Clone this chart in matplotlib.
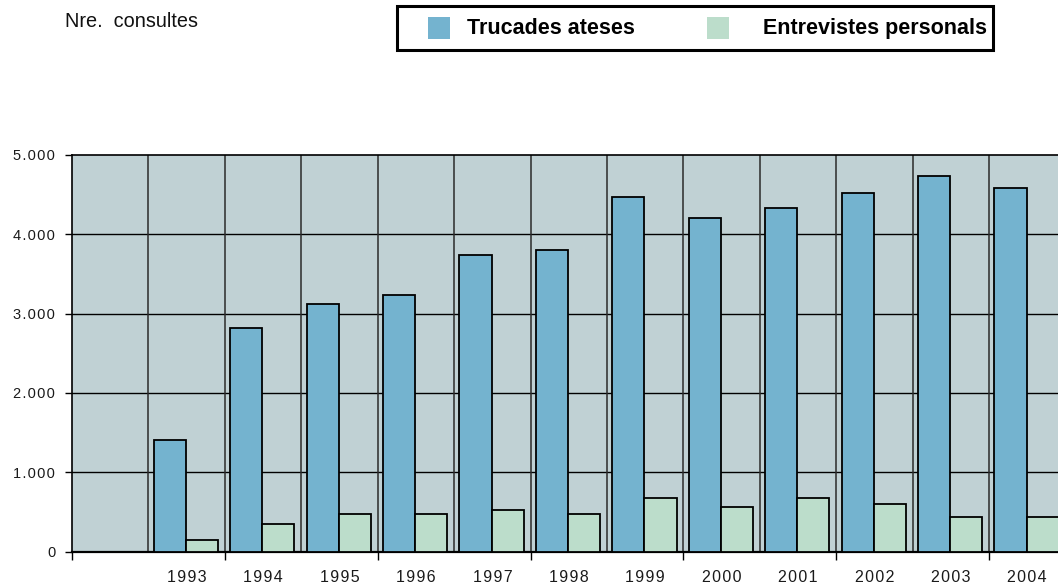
import matplotlib
matplotlib.use("Agg")
import matplotlib.pyplot as plt
from matplotlib.patches import Rectangle
import numpy as np

years = ["1993", "1994", "1995", "1996", "1997", "1998",
         "1999", "2000", "2001", "2002", "2003", "2004"]
trucades = [1400, 2815, 3120, 3230, 3740, 3800, 4470, 4210, 4330, 4520, 4730, 4580]
entrevistes = [150, 350, 470, 470, 520, 470, 680, 560, 670, 595, 430, 430]
series_names = ["Trucades ateses", "Entrevistes personals"]
y_ticks = [0, 1000, 2000, 3000, 4000, 5000]
y_label = "Nre.  consultes"

C_BLUE = "#74B3CF"
C_GREEN = "#BCDDCB"
C_BG = "#C0D1D4"

SP = "\u200a"

def spaced(s):
    return SP.join(list(s))

def fmt_thousands(v):
    return f"{v:,}".replace(",", ".")

plt.rcParams['font.family'] = ['Liberation Sans', 'DejaVu Sans']

W, H = 1058, 585
fig = plt.figure(figsize=(W / 100, H / 100), dpi=100)
ax = fig.add_axes([72 / W, 1 - 551.5 / H, (1065.5 - 72) / W, (551.5 - 155) / H])
ax.set_facecolor(C_BG)

pos = np.arange(len(years)) + 1  # first slot left empty
bw = 0.42
ax.bar(pos - 0.22, trucades, width=bw, color=C_BLUE, edgecolor="black", linewidth=1.3, zorder=3)
ax.bar(pos + 0.20, entrevistes, width=bw, color=C_GREEN, edgecolor="black", linewidth=1.3, zorder=3)

ax.set_xlim(-0.5, len(years) + 0.5)
ax.set_ylim(0, 5000)

# gridlines
for yv in y_ticks[1:-1]:
    ax.axhline(yv, color="black", lw=1.0, zorder=1)
for k in range(len(years)):
    ax.axvline(k + 0.5, color="#2a2a2a", lw=1.1, zorder=1)

ax.set_yticks(y_ticks)
ax.set_yticklabels([spaced(fmt_thousands(v)) for v in y_ticks], fontsize=10.5, color="#1a1a1a")
ax.tick_params(axis="y", length=5, width=1, pad=7)

# x: major ticks at every second boundary, labels on minor ticks
ax.set_xticks(np.arange(-0.5, len(years) + 0.6, 2))
ax.set_xticklabels([])
ax.tick_params(axis="x", which="major", length=6, width=1, direction="out")
ax.set_xticks(pos, minor=True)
ax.set_xticklabels([spaced(y) for y in years], minor=True, fontsize=11.5, color="#1a1a1a")
ax.tick_params(axis="x", which="minor", length=0, pad=13)

for side in ["top", "left", "bottom"]:
    ax.spines[side].set_color("black")
    ax.spines[side].set_linewidth(1.2)
ax.spines["bottom"].set_linewidth(1.6)
ax.spines["right"].set_visible(False)

# y label text at top-left
fig.text(65 / W, 1 - 27 / H, y_label, fontsize=14.3, ha="left", va="baseline", color="#111111")

# legend box
fig.add_artist(Rectangle((397 / W, 1 - 50 / H), (993 - 397) / W, (50 - 6) / H,
                         transform=fig.transFigure, facecolor="white",
                         edgecolor="black", linewidth=2.2))
fig.add_artist(Rectangle((428 / W, 1 - 39 / H), 22 / W, 22 / H,
                         transform=fig.transFigure, facecolor=C_BLUE, edgecolor="none"))
fig.add_artist(Rectangle((707 / W, 1 - 39 / H), 22 / W, 22 / H,
                         transform=fig.transFigure, facecolor=C_GREEN, edgecolor="none"))
fig.text(467 / W, 1 - 34 / H, series_names[0], fontsize=15.5, fontweight="bold",
         ha="left", va="baseline", color="black")
fig.text(763 / W, 1 - 34 / H, series_names[1], fontsize=15.5, fontweight="bold",
         ha="left", va="baseline", color="black")

fig.savefig("out.png", dpi=100)
